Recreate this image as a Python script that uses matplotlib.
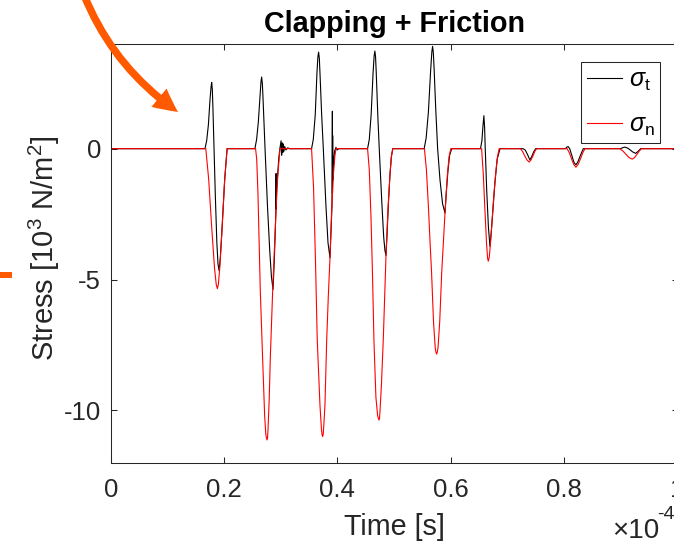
import matplotlib
matplotlib.use('Agg')
import matplotlib.pyplot as plt
from matplotlib.patches import FancyArrowPatch, Rectangle

############################################### Data (time in 1e-4 s, stress in 1e3 N/m^2) ##############################

# sigma_t (black)
t_sig_t = [0.0,
           0.1663, 0.1693, 0.1723, 0.1753, 0.1770, 0.1782, 0.1793, 0.1803, 0.1823, 0.1846, 0.1873, 0.1893, 0.1912,
           0.1933, 0.1963, 0.2011, 0.2054,
           0.2544, 0.2574, 0.2604, 0.2634, 0.2651, 0.2663, 0.2675, 0.2686, 0.2723, 0.2766, 0.2806, 0.2836, 0.2864,
           0.2886, 0.2906, 0.2916, 0.2918, 0.2920, 0.2926, 0.2946, 0.2966, 0.2988, 0.3006, 0.3016, 0.3026, 0.3036,
           0.3046, 0.3056, 0.3071, 0.3091, 0.3121, 0.3161,
           0.3544, 0.3574, 0.3609, 0.3639, 0.3655, 0.3668, 0.3681, 0.3694, 0.3722, 0.3751, 0.3798, 0.3834, 0.3869,
           0.3889, 0.3904, 0.3911, 0.3913, 0.3916, 0.3919, 0.3924, 0.3934, 0.3949, 0.3974, 0.3994, 0.4024,
           0.4532, 0.4562, 0.4595, 0.4629, 0.4648, 0.4661, 0.4673, 0.4685, 0.4712, 0.4738, 0.4782, 0.4817, 0.4839,
           0.4857, 0.4877, 0.4902, 0.4927, 0.4952, 0.4977,
           0.5530, 0.5565, 0.5605, 0.5645, 0.5666, 0.5679, 0.5692, 0.5705, 0.5735, 0.5768, 0.5810, 0.5855, 0.5898,
           0.5920, 0.5950, 0.5980, 0.6017,
           0.6524, 0.6549, 0.6569, 0.6584, 0.6597, 0.6608, 0.6634, 0.6664, 0.6691, 0.6714, 0.6744, 0.6779, 0.6819,
           0.6869,
           0.7273, 0.7313, 0.7353, 0.7396, 0.7428, 0.7463, 0.7497,
           0.8023, 0.8048, 0.8071, 0.8098, 0.8138, 0.8173, 0.8208, 0.8243, 0.8288, 0.8338,
           0.8996, 0.9036, 0.9071, 0.9111, 0.9156, 0.9206, 0.9261, 0.9306, 0.9350,
           1.0]
sig_t = [0.0,
         0.0, 0.3, 0.9, 1.9, 2.35, 2.53, 2.25, 1.6, 0.0, -1.8, -3.6, -4.4, -4.66,
         -4.2, -3.1, -1.18, 0.0,
         0.0, 0.35, 1.0, 2.0, 2.55, 2.74, 2.5, 2.0, 0.0, -2.2, -3.9, -4.9, -5.38,
         -4.3, -3.0, -2.3, -0.95, -2.3, -1.6, -1.0, -0.35, 0.05, 0.3, -0.25, 0.22, -0.15,
         0.18, -0.1, 0.08, -0.05, 0.03, 0.0,
         0.0, 0.35, 1.3, 2.9, 3.5, 3.69, 3.45, 2.8, 1.3, 0.0, -2.2, -3.6, -4.17,
         -3.0, -2.2, 1.43, -1.7, 0.5, -1.2, -0.3, -0.6, -0.1, 0.05, -0.05, 0.0,
         0.0, 0.35, 1.3, 2.9, 3.55, 3.73, 3.5, 2.9, 1.3, 0.0, -2.0, -3.4, -3.9,
         -4.08, -3.2, -2.0, -1.0, -0.3, 0.0,
         0.0, 0.4, 1.4, 3.0, 3.7, 3.91, 3.68, 3.1, 1.5, 0.0, -1.2, -2.1, -2.46,
         -1.7, -0.85, -0.25, 0.0,
         0.0, 0.3, 0.9, 1.26, 0.8, 0.0, -1.6, -3.0, -3.73, -3.2, -2.3, -1.3, -0.4,
         0.0,
         0.0, -0.05, -0.22, -0.43, -0.3, -0.12, 0.0,
         0.0, 0.06, 0.08, 0.0, -0.28, -0.52, -0.62, -0.5, -0.25, 0.0,
         0.0, 0.04, 0.06, 0.03, -0.03, -0.12, -0.18, -0.1, 0.0,
         0.0]

# sigma_n (red)
t_sig_n = [0.0,
           0.1678, 0.1729, 0.1780, 0.1831, 0.1862, 0.1882, 0.1899, 0.1925, 0.1968, 0.2011, 0.2054,
           0.2556, 0.2576, 0.2598, 0.2639, 0.2680, 0.2716, 0.2736, 0.2747, 0.2757, 0.2767, 0.2776, 0.2796, 0.2816,
           0.2858, 0.2918, 0.2946, 0.2971, 0.2988,
           0.3544, 0.3579, 0.3612, 0.3644, 0.3692, 0.3719, 0.3729, 0.3739, 0.3749, 0.3759, 0.3780, 0.3811, 0.3840,
           0.3869, 0.3899, 0.3929, 0.3954, 0.3974,
           0.4532, 0.4562, 0.4592, 0.4620, 0.4644, 0.4679, 0.4709, 0.4722, 0.4733, 0.4743, 0.4752, 0.4777, 0.4809,
           0.4833, 0.4857, 0.4892, 0.4927, 0.4952, 0.4977,
           0.5535, 0.5570, 0.5605, 0.5635, 0.5661, 0.5695, 0.5725, 0.5738, 0.5750, 0.5762, 0.5775, 0.5805, 0.5840,
           0.5898, 0.5940, 0.5970, 0.6000,
           0.6544, 0.6573, 0.6603, 0.6632, 0.6649, 0.6661, 0.6679, 0.6699, 0.6724, 0.6759, 0.6794, 0.6824,
           0.6854,
           0.7228, 0.7267, 0.7306, 0.7344, 0.7383, 0.7416, 0.7449, 0.7481, 0.7514,
           0.8053, 0.8092, 0.8131, 0.8169, 0.8208, 0.8248, 0.8288, 0.8328, 0.8368,
           0.8982, 0.9037, 0.9092, 0.9146, 0.9201, 0.9242, 0.9284, 0.9325, 0.9366,
           1.0]
sig_n = [0.0,
         0.0, -1.18, -2.94, -4.55, -5.19, -5.35, -5.19, -4.55, -2.94, -1.18, 0.0,
         0.0, -0.4, -1.7, -5.4, -8.0, -10.2, -10.9, -11.05, -11.13, -11.05, -10.7, -9.6, -8.0,
         -5.4, -2.3, -1.1, -0.4, 0.0,
         0.0, -1.5, -4.2, -7.3, -9.8, -10.75, -10.92, -11.0, -10.92, -10.6, -9.8, -7.3, -5.6,
         -4.17, -2.3, -1.0, -0.3, 0.0,
         0.0, -0.8, -2.6, -4.9, -7.3, -9.5, -10.2, -10.3, -10.37, -10.3, -10.0, -9.0, -7.3,
         -5.7, -4.08, -2.3, -1.0, -0.3, 0.0,
         0.0, -0.8, -2.2, -3.6, -4.73, -6.6, -7.6, -7.78, -7.85, -7.78, -7.6, -6.6, -4.73,
         -2.46, -1.0, -0.3, 0.0,
         0.0, -0.95, -2.37, -3.66, -4.17, -4.30, -4.15, -3.65, -2.9, -1.8, -0.9, -0.3,
         0.0,
         0.0, -0.11, -0.28, -0.43, -0.51, -0.43, -0.28, -0.11, 0.0,
         0.0, -0.16, -0.39, -0.60, -0.71, -0.60, -0.39, -0.16, 0.0,
         0.0, -0.09, -0.22, -0.34, -0.40, -0.34, -0.22, -0.09, 0.0,
         0.0]

x_ticks = [0, 0.2, 0.4, 0.6, 0.8, 1.0]
x_tick_labels = ['0', '0.2', '0.4', '0.6', '0.8', '1']
y_ticks = [-10, -5, 0]
y_tick_labels = ['-10', '-5', '0']

############################################### Style ##################################################################

plt.rcParams['font.family'] = ['Liberation Sans', 'DejaVu Sans']
plt.rcParams['mathtext.fontset'] = 'custom'
plt.rcParams['mathtext.rm'] = 'Liberation Sans'
plt.rcParams['mathtext.it'] = 'Liberation Sans:italic'
plt.rcParams['axes.unicode_minus'] = False

W, H = 674, 546
axc = '#262626'
orange = '#FF5A00'

fig = plt.figure(figsize=(W / 100, H / 100), dpi=100)
ax = fig.add_axes([110.7 / W, (H - 462.7) / H, (677.5 - 110.7) / W, (462.7 - 44) / H])

ax.plot(t_sig_t, sig_t, color='k', lw=0.8, label=r'$\sigma_{\mathrm{t}}$')
ax.plot(t_sig_n, sig_n, color='r', lw=0.8, label=r'$\sigma_{\mathrm{n}}$')

ax.set_xlim(0, 1)
ax.set_ylim(-12, 4)
ax.set_xticks(x_ticks)
ax.set_xticklabels(x_tick_labels)
ax.set_yticks(y_ticks)
ax.set_yticklabels(y_tick_labels)
ax.tick_params(direction='in', length=4.3, width=0.75, top=True, right=True,
               labelsize=18.5, colors=axc)
ax.tick_params(axis='x', pad=11)
ax.tick_params(axis='y', pad=7)
for sp in ax.spines.values():
    sp.set_color(axc)
    sp.set_linewidth(0.75)

leg = ax.legend(loc='upper right', bbox_to_anchor=(0.969, 0.957), borderaxespad=0,
                fontsize=18, handlelength=1.42, handletextpad=0.25, borderpad=0.22,
                labelspacing=0.8, fancybox=False, framealpha=1, edgecolor=axc)
leg.get_frame().set_linewidth(0.75)

############################################### Texts ##################################################################

fig.text(394 / W, 1 - 32 / H, 'Clapping + Friction', ha='center', va='baseline',
         fontsize=20.7, fontweight='bold', color='k')
fig.text(394 / W, 1 - 535 / H, 'Time [s]', ha='center', va='baseline', fontsize=20.7, color=axc)
fig.text(53.5 / W, 1 - 248 / H, r'Stress [10$^3$ N/m$^2$]', rotation=90, rotation_mode='anchor',
         ha='center', va='baseline', fontsize=21, color=axc)
fig.text(612 / W, 1 - 538 / H, '\u00d710', ha='left', va='baseline', fontsize=20, color=axc)
fig.text(657 / W, 1 - 519 / H, '-4', ha='left', va='baseline', fontsize=14, color=axc)

############################################### Orange marks ###########################################################

arrow = FancyArrowPatch((84 / W, 1 + 5 / H), (178 / W, 1 - 112 / H), transform=fig.transFigure,
                        arrowstyle='simple,head_length=0.95,head_width=0.95,tail_width=0.3',
                        mutation_scale=18, connectionstyle='arc3,rad=0.15',
                        color=orange, lw=0, shrinkA=0, shrinkB=0)
fig.add_artist(arrow)
fig.add_artist(Rectangle((0, 1 - 278 / H), 12 / W, 6 / H, transform=fig.transFigure,
                         color=orange, lw=0))

fig.savefig('out.png', dpi=100)
